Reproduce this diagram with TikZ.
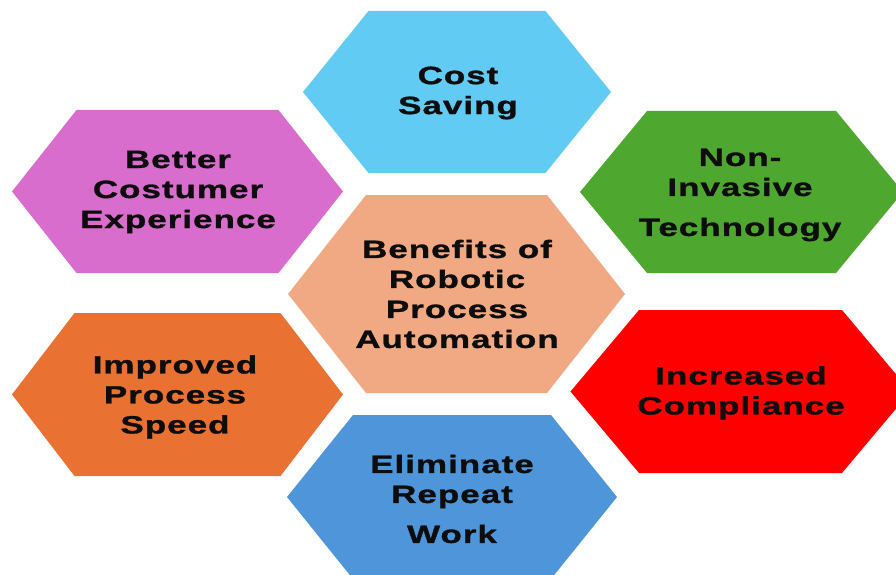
\documentclass[tikz,border=0pt]{standalone}
\usepackage{fontspec}
\newfontfamily\hexfont{Liberation Sans}[FakeStretch=1.4,LetterSpace=4,FakeBold=1.2]
\definecolor{cCost}{HTML}{61CBF3}
\definecolor{cBetter}{HTML}{D86DCD}
\definecolor{cNon}{HTML}{4EA72E}
\definecolor{cCenter}{HTML}{F1A983}
\definecolor{cImproved}{HTML}{E97132}
\definecolor{cRed}{HTML}{FF0000}
\definecolor{cElim}{HTML}{4E95D9}
\definecolor{txtc}{HTML}{0D0D0D}
\newcommand\hexagonshape[6]{%
  \fill[#6] (#1-#3,#2) -- (#1-#4,#2-#5) -- (#1+#4,#2-#5) -- (#1+#3,#2)
    -- (#1+#4,#2+#5) -- (#1-#4,#2+#5) -- cycle;}
\tikzset{
  hextext/.style={align=center,text=txtc,inner sep=0pt,
    font=\hexfont\bfseries\fontsize{25}{30}\selectfont}
}
\begin{document}
\begin{tikzpicture}[x=1pt,y=-1pt]
\useasboundingbox (0,0) rectangle (896,575);
\fill[white] (0,0) rectangle (896,575);
\clip (0,0) rectangle (896,575);
\hexagonshape{457}{92}{154}{88.5}{81}{cCost}
\hexagonshape{177.5}{191.5}{165.5}{101}{81.5}{cBetter}
\hexagonshape{741.5}{192}{161.5}{94.5}{81}{cNon}
\hexagonshape{456.5}{294}{168.5}{90.5}{99}{cCenter}
\hexagonshape{177.5}{394.5}{165.5}{103}{81.5}{cImproved}
\hexagonshape{740.5}{391.5}{170}{101.5}{81.5}{cRed}
\hexagonshape{452}{497}{165}{99}{82}{cElim}
\node[hextext] (cost) at (458,93) {Cost\\Saving};
\node[hextext] (better) at (178,192) {Better\\Costumer\\Experience};
\node[hextext] (noninv) at (740,195) {Non-\\Invasive\\[10pt]Technology};
\node[hextext] (center) at (457,294) {Benefits of\\Robotic\\Process\\Automation};
\node[hextext] (improved) at (175,397) {Improved\\Process\\Speed};
\node[hextext] (increased) at (741,393) {Increased\\Compliance};
\node[hextext] (elim) at (452,499) {Eliminate\\Repeat\\[10pt]Work};
\end{tikzpicture}
\end{document}
